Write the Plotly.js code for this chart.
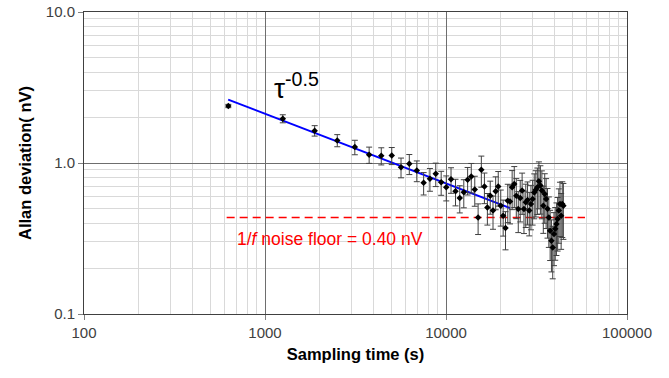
<!DOCTYPE html>
<html>
<head>
<meta charset="utf-8">
<script src="https://cdn.plot.ly/plotly-3.0.1.min.js"></script>
<style>html,body{margin:0;padding:0;background:#fff;}#chart{width:669px;height:378px;}</style>
</head>
<body>
<div id="chart"></div>
<script>
// Sampling times (s)
const tau = [627, 1254, 1881, 2508, 3135, 3762, 4389, 5016, 5643, 6270,
  6897, 7524, 8151, 8778, 9405, 10032, 10659, 11286, 11913, 12540,
  13167, 13794, 14421, 15048, 15675, 16302, 16929, 17556, 18183, 18810,
  19437, 20064, 20691, 21318, 21945, 22572, 23199, 23826, 24453, 25080,
  25707, 26334, 26961, 27588, 28215, 28842, 29469, 30096, 30723, 31350,
  31977, 32604, 33231, 33858, 34485, 35112, 35739, 36366, 36993, 37620,
  38247, 38874, 39501, 40128, 40755, 41382, 42009, 42636, 43263, 43890, 44517];
// Allan deviation (nV)
const adev = [2.385, 1.966, 1.637, 1.411, 1.274, 1.134, 1.116, 1.121, 0.938, 0.988,
  0.892, 0.739, 0.785, 0.848, 0.746, 0.691, 0.780, 0.650, 0.587, 0.640,
  0.774, 0.813, 0.667, 0.436, 0.901, 0.698, 0.508, 0.608, 0.484, 0.650,
  0.698, 0.522, 0.448, 0.371, 0.563, 0.555, 0.691, 0.727, 0.608, 0.496,
  0.587, 0.657, 0.496, 0.549, 0.569, 0.484, 0.536, 0.578, 0.637, 0.664,
  0.691, 0.757, 0.709, 0.657, 0.522, 0.624, 0.578, 0.498, 0.436, 0.356,
  0.305, 0.276, 0.339, 0.367, 0.394, 0.426, 0.484, 0.536, 0.448, 0.536, 0.522];
// Error bar half-widths (nV)
const adevErr = [0.06, 0.12, 0.13, 0.13, 0.14, 0.14, 0.145, 0.145, 0.14, 0.15,
  0.14, 0.125, 0.135, 0.15, 0.135, 0.13, 0.15, 0.13, 0.12, 0.135,
  0.16, 0.18, 0.15, 0.10, 0.21, 0.16, 0.12, 0.15, 0.12, 0.16,
  0.18, 0.14, 0.12, 0.105, 0.16, 0.16, 0.20, 0.22, 0.18, 0.15,
  0.18, 0.20, 0.155, 0.175, 0.18, 0.155, 0.175, 0.19, 0.21, 0.225,
  0.235, 0.26, 0.25, 0.23, 0.18, 0.225, 0.21, 0.18, 0.16, 0.13,
  0.115, 0.105, 0.13, 0.14, 0.15, 0.165, 0.19, 0.21, 0.18, 0.215, 0.21];
// tau^-0.5 fit line
const fitX = [626, 22600];
const fitY = [2.63, 0.503];
// 1/f noise floor line
const floorX = [614, 58600];
const floorY = [0.436, 0.436];
// axis ticks
const xTicks = [100, 1000, 10000, 100000];
const xTickText = ['100', '1000', '10000', '100000'];
const yTicks = [0.1, 1, 10];
const yTickText = ['0.1', '1.0', '10.0'];
const xMinor = [200,300,400,500,600,700,800,900,2000,3000,4000,5000,6000,7000,8000,9000,20000,30000,40000,50000,60000,70000,80000,90000];
const yMinor = [0.2,0.3,0.4,0.5,0.6,0.7,0.8,0.9,2,3,4,5,6,7,8,9];

const font = 'Liberation Sans, Arial, sans-serif';

const traces = [
  {x: fitX, y: fitY, mode: 'lines', line: {color: '#0000ff', width: 2}, hoverinfo: 'skip'},
  {x: floorX, y: floorY, mode: 'lines', line: {color: '#ff0000', width: 1.5, dash: '8px,5px'}, hoverinfo: 'skip'},
  {x: tau, y: adev, mode: 'markers',
   marker: {symbol: 'diamond', size: 5, color: '#000000'},
   error_y: {type: 'data', array: adevErr, visible: true, color: '#404040', thickness: 1, width: 3}}
];

const axisCommon = {
  type: 'log', showline: true, mirror: true, linecolor: '#404040', linewidth: 1,
  ticks: 'outside', ticklen: 5, tickcolor: '#808080',
  showgrid: true, gridcolor: '#6e6e6e', gridwidth: 1, zeroline: false,
  tickfont: {family: font, size: 15, color: '#404040'}
};

const layout = {
  width: 669, height: 378,
  margin: {l: 84, r: 42, t: 12, b: 64},
  paper_bgcolor: '#ffffff', plot_bgcolor: '#ffffff',
  showlegend: false,
  xaxis: Object.assign({}, axisCommon, {
    range: [2, 5], tickmode: 'array', tickvals: xTicks, ticktext: xTickText,
    minor: {tickmode: 'array', tickvals: xMinor, showgrid: true, gridcolor: '#d9d9d9', gridwidth: 1, ticks: ''},
    title: {text: 'Sampling time (s)', font: {family: font, size: 16.5, color: '#000000', weight: 'bold'}, standoff: 8}
  }),
  yaxis: Object.assign({}, axisCommon, {
    range: [-1, 1], tickmode: 'array', tickvals: yTicks, ticktext: yTickText,
    minor: {tickmode: 'array', tickvals: yMinor, showgrid: true, gridcolor: '#d9d9d9', gridwidth: 1, ticks: ''},
    title: {text: 'Allan deviation( nV)', font: {family: font, size: 16.5, color: '#000000', weight: 'bold'}, standoff: 10}
  }),
  annotations: [
    {x: Math.log10(1500), y: Math.log10(3.25), xref: 'x', yref: 'y', showarrow: false,
     text: 'τ<sup>-0.5</sup>', font: {family: font, size: 28, color: '#000000'}},
    {x: Math.log10(2290), y: Math.log10(0.315), xref: 'x', yref: 'y', showarrow: false,
     text: '1/<i>f</i> noise floor = 0.40 nV', font: {family: font, size: 17.5, color: '#ff0000'}}
  ]
};

Plotly.newPlot('chart', traces, layout, {displayModeBar: false, staticPlot: true});
</script>
</body>
</html>
